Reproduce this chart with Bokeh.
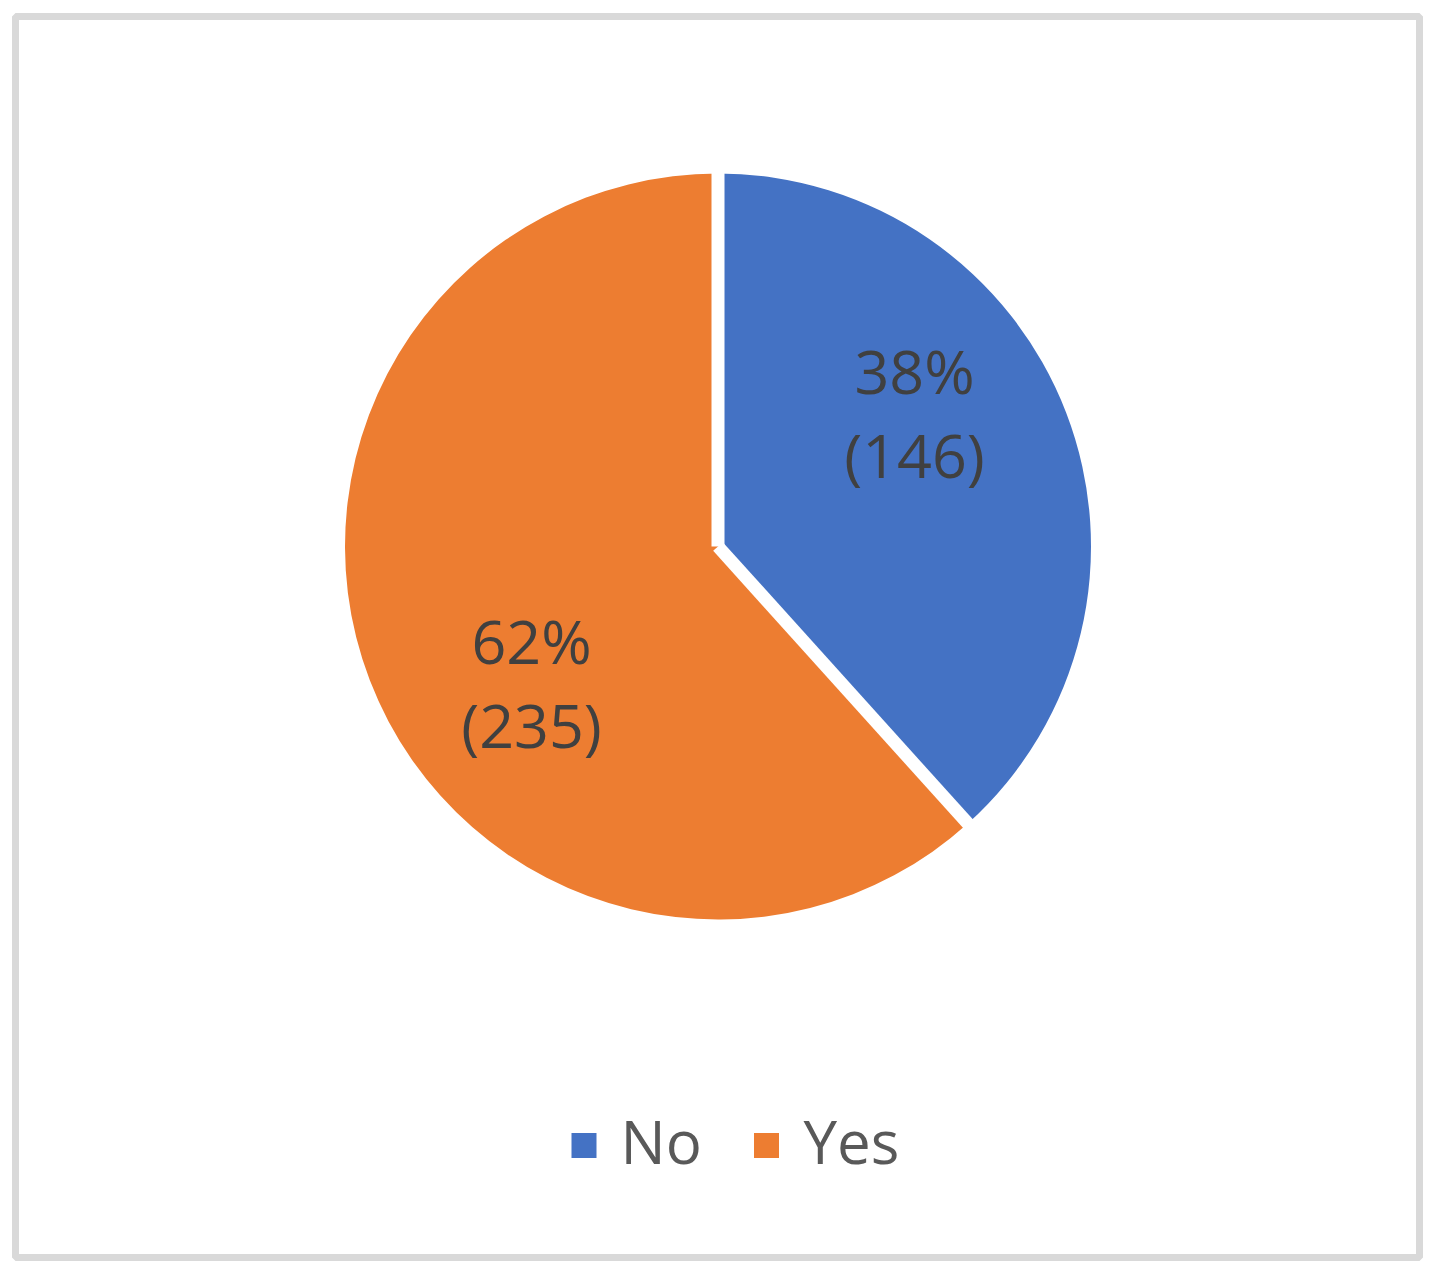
import math
from bokeh.plotting import figure
from bokeh.models import Range1d
from bokeh.core.properties import value
from bokeh.embed import file_html
from bokeh.resources import INLINE

# ---- data ----
categories = ["No", "Yes"]
counts = [146, 235]
colors = ["#4472C4", "#ED7D31"]

# ---- layout ----
FW, FH = 1404, 1241
cx, cy, R = 702.5, 711.0, 373.0
gap = 13
label_dx = [196.5, -186.5]          # label centre offsets from pie centre
label_top_dy = [176.0, -94.0]       # first line position
line_step = 84.0
FONT = "Open Sans"

total = sum(counts)
fracs = [c / total for c in counts]

p = figure(frame_width=FW, frame_height=FH, x_range=Range1d(0, FW), y_range=Range1d(0, FH),
           x_axis_location=None, y_axis_location=None, toolbar_location=None,
           output_backend="svg", min_border_left=15, min_border_right=8,
           min_border_top=16, min_border_bottom=7)
p.grid.visible = False
p.outline_line_color = "#D9D9D9"
p.outline_line_width = 7
p.background_fill_color = "white"
p.border_fill_color = "white"

start = math.pi / 2
starts, ends = [], []
a = start
for f in fracs:
    starts.append(a)
    a = a - 2 * math.pi * f
    ends.append(a)

p.wedge(x=[cx] * len(counts), y=[cy] * len(counts), radius=R,
        start_angle=starts, end_angle=ends, direction="clock",
        fill_color=colors, line_color=None)

# white separators along slice boundaries
for ang in starts:
    p.segment(x0=[cx], y0=[cy], x1=[cx + (R + 6) * math.cos(ang)], y1=[cy + (R + 6) * math.sin(ang)],
              line_color="white", line_width=gap)

# data labels
for i, c in enumerate(counts):
    pct = f"{round(fracs[i] * 100)}%"
    x = cx + label_dx[i]
    y1 = cy + label_top_dy[i]
    p.text(x=[x, x], y=[y1, y1 - line_step], text=[pct, f"({c})"],
           text_align="center", text_baseline="alphabetic",
           text_font=value(FONT), text_font_size="61px", text_color="#404040")

# legend
leg_sq_x = [568.5, 751.0]
leg_y = 112.0
leg_text_x = [605.0, 788.0]
for i, cat in enumerate(categories):
    p.rect(x=[leg_sq_x[i]], y=[leg_y], width=25, height=25, fill_color=colors[i], line_color=None)
    p.text(x=[leg_text_x[i]], y=[117.0], text=[cat], text_align="left", text_baseline="alphabetic",
           text_font=value(FONT), text_font_size="60px", text_color="#595959")

open("out.html", "w").write(file_html(p, INLINE))
